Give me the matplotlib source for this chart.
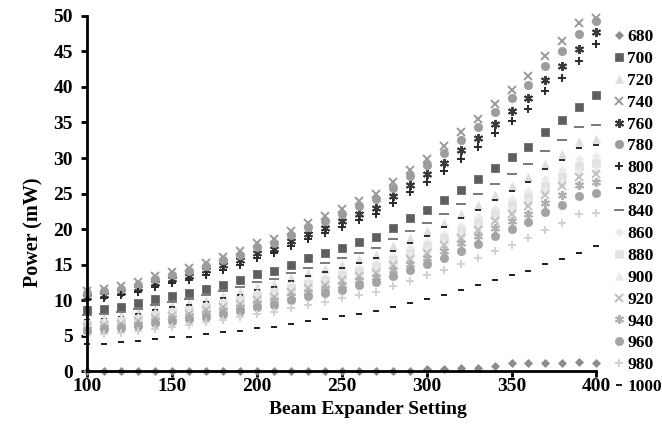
import matplotlib.pyplot as plt

# Beam expander setting (x) and power in mW for each wavelength (nm)
setting = [100, 110, 120, 130, 140, 150, 160, 170, 180, 190, 200, 210, 220, 230, 240, 250,
           260, 270, 280, 290, 300, 310, 320, 330, 340, 350, 360, 370, 380, 390, 400]

p680 = [0.05, 0.05, 0.05, 0.05, 0.05, 0.05, 0.05, 0.05, 0.05, 0.05, 0.05, 0.05, 0.05, 0.05, 0.05, 0.05,
        0.05, 0.05, 0.05, 0.1, 0.3, 0.4, 0.5, 0.5, 0.8, 1.2, 1.2, 1.2, 1.2, 1.3, 1.2]
p700 = [8.6, 8.8, 9.1, 9.6, 10.2, 10.6, 11.0, 11.6, 12.2, 12.8, 13.7, 14.1, 15.0, 15.9, 16.6, 17.3,
        18.2, 18.9, 20.2, 21.5, 22.7, 24.1, 25.5, 27.0, 28.6, 30.1, 31.5, 33.7, 35.3, 37.2, 38.8]
p720 = [7.5, 7.7, 7.9, 8.3, 8.8, 9.2, 9.6, 10.1, 10.6, 11.2, 11.9, 12.3, 13.1, 13.8, 14.4, 15.0,
        15.8, 16.4, 17.6, 18.7, 19.7, 20.9, 22.2, 23.4, 24.8, 26.1, 27.4, 29.2, 30.6, 32.3, 32.7]
p740 = [11.3, 11.6, 12.0, 12.6, 13.4, 14.0, 14.5, 15.3, 16.1, 16.9, 18.0, 18.6, 19.8, 20.9, 21.8, 22.8,
        23.9, 24.9, 26.6, 28.3, 29.9, 31.7, 33.6, 35.5, 37.6, 39.6, 41.5, 44.3, 46.4, 49.0, 49.7]
p760 = [10.5, 10.7, 11.1, 11.7, 12.4, 13.0, 13.4, 14.2, 14.9, 15.6, 16.7, 17.2, 18.3, 19.3, 20.2, 21.1,
        22.1, 23.0, 24.6, 26.2, 27.7, 29.3, 31.1, 32.8, 34.8, 36.6, 38.4, 41.0, 42.9, 45.3, 47.7]
p780 = [11.0, 11.3, 11.6, 12.2, 13.0, 13.6, 14.1, 14.8, 15.6, 16.4, 17.5, 18.0, 19.2, 20.3, 21.1, 22.1,
        23.2, 24.2, 25.8, 27.5, 29.0, 30.7, 32.6, 34.4, 36.5, 38.4, 40.3, 43.0, 45.0, 47.5, 49.2]
p800 = [10.1, 10.3, 10.7, 11.2, 11.9, 12.5, 12.9, 13.6, 14.3, 15.0, 16.0, 16.6, 17.6, 18.6, 19.4, 20.3,
        21.3, 22.2, 23.7, 25.2, 26.6, 28.2, 29.9, 31.6, 33.5, 35.2, 36.9, 39.4, 41.3, 43.6, 46.0]
p820 = [7.2, 7.4, 7.7, 8.1, 8.6, 9.0, 9.3, 9.8, 10.3, 10.8, 11.5, 11.9, 12.7, 13.4, 14.0, 14.6,
        15.3, 15.9, 17.0, 18.1, 19.1, 20.3, 21.5, 22.7, 24.1, 25.3, 26.6, 28.4, 29.7, 31.4, 31.8]
p840 = [7.9, 8.1, 8.4, 8.8, 9.4, 9.8, 10.2, 10.7, 11.3, 11.8, 12.6, 13.0, 13.9, 14.6, 15.3, 16.0,
        16.7, 17.4, 18.6, 19.8, 20.9, 22.2, 23.5, 24.9, 26.3, 27.7, 29.1, 31.0, 32.5, 34.3, 34.7]
p860 = [6.9, 7.1, 7.3, 7.7, 8.2, 8.5, 8.8, 9.3, 9.8, 10.3, 11.0, 11.3, 12.1, 12.7, 13.3, 13.9,
        14.6, 15.2, 16.2, 17.3, 18.2, 19.3, 20.5, 21.7, 22.9, 24.2, 25.3, 27.0, 28.3, 29.9, 30.3]
p880 = [6.7, 6.8, 7.1, 7.4, 7.9, 8.3, 8.6, 9.0, 9.5, 10.0, 10.6, 11.0, 11.7, 12.3, 12.9, 13.5,
        14.1, 14.7, 15.7, 16.7, 17.6, 18.7, 19.8, 20.9, 22.2, 23.4, 24.5, 26.1, 27.4, 28.9, 29.3]
p900 = [6.5, 6.7, 6.9, 7.2, 7.7, 8.1, 8.3, 8.8, 9.3, 9.7, 10.4, 10.7, 11.4, 12.0, 12.5, 13.1,
        13.7, 14.3, 15.3, 16.3, 17.2, 18.2, 19.3, 20.4, 21.6, 22.8, 23.9, 25.5, 26.7, 28.2, 28.5]
p920 = [6.3, 6.5, 6.7, 7.1, 7.5, 7.8, 8.1, 8.6, 9.0, 9.5, 10.1, 10.4, 11.1, 11.7, 12.2, 12.8,
        13.4, 13.9, 14.9, 15.8, 16.7, 17.8, 18.8, 19.9, 21.1, 22.2, 23.2, 24.8, 26.0, 27.4, 27.8]
p940 = [6.0, 6.2, 6.4, 6.7, 7.2, 7.5, 7.8, 8.2, 8.6, 9.0, 9.6, 10.0, 10.6, 11.2, 11.7, 12.2,
        12.8, 13.3, 14.2, 15.1, 16.0, 17.0, 18.0, 19.0, 20.1, 21.2, 22.2, 23.7, 24.8, 26.2, 26.6]
p960 = [5.7, 5.9, 6.1, 6.4, 6.8, 7.1, 7.3, 7.7, 8.1, 8.5, 9.1, 9.4, 10.0, 10.6, 11.0, 11.5,
        12.1, 12.6, 13.4, 14.3, 15.1, 16.0, 17.0, 17.9, 19.0, 20.0, 21.0, 22.4, 23.4, 24.7, 25.1]
p980 = [5.1, 5.2, 5.4, 5.7, 6.0, 6.3, 6.5, 6.9, 7.2, 7.6, 8.1, 8.4, 8.9, 9.4, 9.8, 10.3,
        10.8, 11.2, 12.0, 12.7, 13.5, 14.3, 15.1, 16.0, 16.9, 17.8, 18.7, 19.9, 20.9, 22.1, 22.3]
p1000 = [3.8, 3.9, 4.1, 4.3, 4.6, 4.8, 4.9, 5.2, 5.5, 5.7, 6.1, 6.3, 6.7, 7.1, 7.4, 7.8,
         8.1, 8.5, 9.0, 9.6, 10.2, 10.8, 11.4, 12.1, 12.8, 13.5, 14.1, 15.1, 15.8, 16.7, 17.6]

labels = ['680', '700', '720', '740', '760', '780', '800', '820', '840',
          '860', '880', '900', '920', '940', '960', '980', '1000']
series = [p680, p700, p720, p740, p760, p780, p800, p820, p840,
          p860, p880, p900, p920, p940, p960, p980, p1000]

star = (6, 2, 0)
styles = [('D', '#8c8c8c', 4.5), ('s', '#5e5e5e', 5.5), ('^', '#dedede', 5.5), ('x', '#9a9a9a', 5.5),
          (star, '#3a3a3a', 6.5), ('o', '#9c9c9c', 6), ('+', '#2a2a2a', 5.5), ('_', '#2a2a2a', 4.5),
          ('_', '#7a7a7a', 6.5), ('D', '#ebebeb', 4.5), ('s', '#e2e2e2', 5.5), ('^', '#eaeaea', 5.5),
          ('x', '#c0c0c0', 5.5), (star, '#b0b0b0', 6.5), ('o', '#a4a4a4', 6), ('+', '#d2d2d2', 5.5),
          ('_', '#1e1e1e', 4.5)]

plt.rcParams['font.family'] = 'Liberation Serif'
plt.rcParams['font.weight'] = 'bold'

fig = plt.figure(figsize=(6.62, 4.38), dpi=100)
ax = fig.add_axes([0.131, 0.152, 0.770, 0.812])

for ys, lab, (m, c, ms) in zip(series, labels, styles):
    ax.plot(setting, ys, linestyle='none', marker=m, color=c, markersize=ms,
            markeredgewidth=1.4 if m in ('x', '+', '_', star) else 0.5,
            markeredgecolor=c, label=lab, clip_on=False)

ax.set_xlim(100, 400)
ax.set_ylim(0, 50)
ax.set_xticks(range(100, 401, 50))
ax.set_yticks(range(0, 51, 5))
for s in ('top', 'right'):
    ax.spines[s].set_visible(False)
for s in ('left', 'bottom'):
    ax.spines[s].set_linewidth(2)
ax.tick_params(direction='out', length=4, width=2, labelsize=14)
ax.tick_params(axis='x', pad=1)
ax.tick_params(axis='y', pad=6)
ax.set_xlabel('Beam Expander Setting', fontsize=14, fontweight='bold')
ax.set_ylabel('Power (mW)', fontsize=14.5, fontweight='bold')
ax.xaxis.set_label_coords(0.552, -0.082)
ax.yaxis.set_label_coords(-0.085, 0.39)

fig.legend(loc='upper left', bbox_to_anchor=(0.929, 0.934), frameon=False,
           fontsize=12.5, handlelength=0.5, handletextpad=0.2, labelspacing=0.33,
           borderaxespad=0, borderpad=0)

fig.savefig('out.png', dpi=100)
